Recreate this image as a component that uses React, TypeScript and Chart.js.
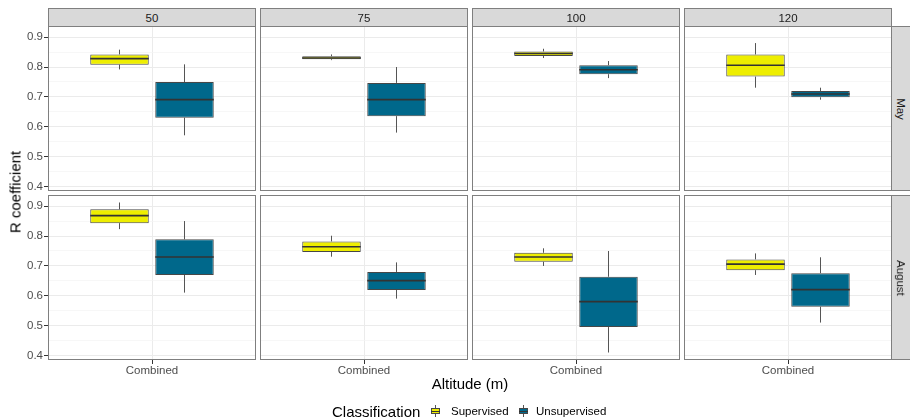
import React, { useEffect, useRef } from 'react';
import { Chart, registerables } from 'chart.js';

Chart.register(...registerables);

// ---------------- data ----------------
const MONTHS = ['May', 'August'];
const ALTITUDES = ['50', '75', '100', '120'];
const CATEGORY = ['Combined'];
const SERIES = ['Supervised', 'Unsupervised'];
const COLORS = ['#EEEE00', '#00688B'];
const Y_MAJOR = [0.4, 0.5, 0.6, 0.7, 0.8, 0.9];
const Y_MINOR = [0.45, 0.55, 0.65, 0.75, 0.85];
const Y_MIN = 0.386;
const Y_MAX = 0.937;

// each entry: [min, q1, median, q3, max], one per altitude 50, 75, 100, 120
const SUPERVISED_MAY = [
  [0.792, 0.808, 0.828, 0.842, 0.858],
  [0.823, 0.826, 0.830, 0.836, 0.842],
  [0.830, 0.837, 0.845, 0.852, 0.861],
  [0.731, 0.768, 0.806, 0.842, 0.880],
];
const UNSUPERVISED_MAY = [
  [0.572, 0.631, 0.691, 0.750, 0.809],
  [0.581, 0.636, 0.691, 0.747, 0.800],
  [0.763, 0.776, 0.791, 0.806, 0.820],
  [0.691, 0.699, 0.710, 0.720, 0.731],
];
const SUPERVISED_AUG = [
  [0.823, 0.843, 0.868, 0.889, 0.912],
  [0.731, 0.747, 0.764, 0.782, 0.801],
  [0.700, 0.714, 0.730, 0.744, 0.759],
  [0.670, 0.686, 0.706, 0.722, 0.742],
];
const UNSUPERVISED_AUG = [
  [0.611, 0.670, 0.730, 0.789, 0.850],
  [0.591, 0.620, 0.651, 0.680, 0.712],
  [0.411, 0.496, 0.581, 0.664, 0.750],
  [0.511, 0.564, 0.621, 0.676, 0.729],
];
const STATS: Record<string, number[][][]> = {
  May: [SUPERVISED_MAY, UNSUPERVISED_MAY],
  August: [SUPERVISED_AUG, UNSUPERVISED_AUG],
};

// ---------------- layout ----------------
const FONT = "'Liberation Sans', Arial, sans-serif";
const COL_LEFT = [48, 260, 472, 684];
const PANEL_W = 208;
const ROW_TOP = [26, 195];
const PANEL_H = 165;
const Y_AXIS_W = 48;
const X_AXIS_H = 22;
const BORDER = '#7f7f7f';

const isMajor = (v: number) => Y_MAJOR.some((m) => Math.abs(m - v) < 1e-6);

const boxPlugin = {
  id: 'boxWhiskers',
  afterDatasetsDraw(chart: any) {
    const ctx = chart.ctx;
    const y = chart.scales.y;
    chart.data.datasets.forEach((ds: any, i: number) => {
      const el = chart.getDatasetMeta(i).data[0];
      if (!el) return;
      const { x, width } = el.getProps(['x', 'width'], true);
      const s = ds.stats as number[];
      ctx.save();
      ctx.strokeStyle = '#555555';
      ctx.lineWidth = 1;
      ctx.beginPath();
      ctx.moveTo(x, y.getPixelForValue(s[3]));
      ctx.lineTo(x, y.getPixelForValue(s[4]));
      ctx.moveTo(x, y.getPixelForValue(s[1]));
      ctx.lineTo(x, y.getPixelForValue(s[0]));
      ctx.stroke();
      ctx.strokeStyle = '#333333';
      ctx.lineWidth = 1.6;
      ctx.beginPath();
      const my = y.getPixelForValue(s[2]);
      ctx.moveTo(x - width / 2, my);
      ctx.lineTo(x + width / 2, my);
      ctx.stroke();
      ctx.restore();
    });
  },
  afterDraw(chart: any) {
    const { left, top, right, bottom } = chart.chartArea;
    const ctx = chart.ctx;
    ctx.save();
    ctx.strokeStyle = BORDER;
    ctx.lineWidth = 1;
    ctx.strokeRect(left + 0.5, top + 0.5, right - left - 1, bottom - top - 1);
    ctx.restore();
  },
};

function Panel({ row, col }: { row: number; col: number }) {
  const ref = useRef<HTMLCanvasElement>(null);
  const yW = col === 0 ? Y_AXIS_W : 0;
  const xH = row === 1 ? X_AXIS_H : 0;
  const left = COL_LEFT[col] - yW;
  const top = ROW_TOP[row];
  const w = PANEL_W + yW;
  const h = PANEL_H + xH;

  useEffect(() => {
    const month = MONTHS[row];
    const stats = STATS[month].map((series) => series[col]);
    const chart = new Chart(ref.current as HTMLCanvasElement, {
      type: 'bar',
      data: {
        labels: CATEGORY,
        datasets: stats.map((s, i) => ({
          label: SERIES[i],
          data: [[s[1], s[3]]],
          backgroundColor: COLORS[i],
          borderColor: '#474747',
          borderWidth: 1,
          borderSkipped: false,
          categoryPercentage: 0.625,
          barPercentage: 0.9,
          stats: s,
        })) as any,
      },
      options: {
        animation: false,
        responsive: false,
        maintainAspectRatio: false,
        devicePixelRatio: 1,
        layout: { padding: 0 },
        events: [],
        plugins: { legend: { display: false }, tooltip: { enabled: false } },
        scales: {
          x: {
            type: 'category',
            offset: true,
            grid: {
              offset: false,
              color: '#EBEBEB',
              lineWidth: 1,
              drawTicks: row === 1,
              tickLength: 4,
              tickColor: '#333333',
            },
            border: { display: false },
            ticks: {
              display: row === 1,
              color: '#4D4D4D',
              font: { family: FONT, size: 11.5 },
              padding: 0,
              maxRotation: 0,
            },
            afterFit: (s: any) => {
              s.height = xH;
              s.paddingLeft = 0;
              s.paddingRight = 0;
            },
          } as any,
          y: {
            type: 'linear',
            min: Y_MIN,
            max: Y_MAX,
            afterBuildTicks: (s: any) => {
              s.ticks = [...Y_MAJOR, ...Y_MINOR]
                .sort((a, b) => a - b)
                .map((v) => ({ value: v }));
            },
            grid: {
              color: (c: any) => (c.tick && isMajor(c.tick.value) ? '#EBEBEB' : '#F3F3F3'),
              lineWidth: (c: any) => (c.tick && isMajor(c.tick.value) ? 1 : 0.7),
              drawTicks: col === 0,
              tickLength: 4,
              tickColor: (c: any) => (c.tick && isMajor(c.tick.value) ? '#333333' : 'rgba(0,0,0,0)'),
            },
            border: { display: false },
            ticks: {
              display: col === 0,
              autoSkip: false,
              color: '#4D4D4D',
              font: { family: FONT, size: 11.5 },
              padding: 1,
              callback: (v: any) => (isMajor(Number(v)) ? Number(v).toFixed(1) : ''),
            },
            afterFit: (s: any) => {
              s.width = yW;
              s.paddingTop = 0;
              s.paddingBottom = 0;
            },
          } as any,
        },
      },
      plugins: [boxPlugin],
    });
    return () => chart.destroy();
  }, []);

  return (
    <canvas
      ref={ref}
      width={w}
      height={h}
      style={{ position: 'absolute', left, top, width: w, height: h, display: 'block' }}
    />
  );
}

function LegendKey({ color, left }: { color: string; left: number }) {
  return (
    <div style={{ position: 'absolute', left, top: 405, width: 9, height: 12 }}>
      <div style={{ position: 'absolute', left: 4, top: 0, width: 1, height: 12, background: '#555' }} />
      <div
        style={{
          position: 'absolute',
          left: 0,
          top: 3,
          width: 9,
          height: 6,
          boxSizing: 'border-box',
          background: color,
          border: '1px solid #474747',
        }}
      />
      <div style={{ position: 'absolute', left: 0, top: 5.5, width: 9, height: 1.2, background: '#333' }} />
    </div>
  );
}

export default function App() {
  const stripStyle: React.CSSProperties = {
    position: 'absolute',
    boxSizing: 'border-box',
    background: '#D9D9D9',
    border: `1px solid ${BORDER}`,
    color: '#1A1A1A',
    fontFamily: FONT,
    fontSize: 11.5,
    display: 'flex',
    alignItems: 'center',
    justifyContent: 'center',
  };
  return (
    <div
      style={{
        position: 'absolute',
        left: 0,
        top: 0,
        width: 910,
        height: 419,
        overflow: 'hidden',
        background: '#FFFFFF',
        fontFamily: FONT,
      }}
    >
      {MONTHS.map((m, r) =>
        ALTITUDES.map((a, c) => <Panel key={`${m}-${a}`} row={r} col={c} />)
      )}
      {ALTITUDES.map((a, c) => (
        <div key={a} style={{ ...stripStyle, left: COL_LEFT[c], top: 8, width: PANEL_W, height: 19 }}>
          {a}
        </div>
      ))}
      {MONTHS.map((m, r) => (
        <div
          key={m}
          style={{
            ...stripStyle,
            left: COL_LEFT[3] + PANEL_W - 1,
            top: ROW_TOP[r],
            width: 20,
            height: PANEL_H,
          }}
        >
          <span style={{ display: 'inline-block', transform: 'rotate(90deg)', whiteSpace: 'nowrap' }}>{m}</span>
        </div>
      ))}
      <div
        style={{
          position: 'absolute',
          left: 15,
          top: 192,
          transform: 'translate(-50%, -50%) rotate(-90deg)',
          fontSize: 15,
          color: '#000',
          whiteSpace: 'nowrap',
        }}
      >
        R coefficient
      </div>
      <div
        style={{
          position: 'absolute',
          left: 470,
          top: 383,
          transform: 'translate(-50%, -50%)',
          fontSize: 15,
          color: '#000',
          whiteSpace: 'nowrap',
        }}
      >
        Altitude (m)
      </div>
      <div
        style={{
          position: 'absolute',
          left: 332,
          top: 411,
          transform: 'translateY(-50%)',
          fontSize: 15,
          color: '#000',
          whiteSpace: 'nowrap',
        }}
      >
        Classification
      </div>
      <LegendKey color={COLORS[0]} left={431} />
      <div
        style={{ position: 'absolute', left: 451, top: 411, transform: 'translateY(-50%)', fontSize: 11.5, color: '#000', whiteSpace: 'nowrap' }}
      >
        {SERIES[0]}
      </div>
      <LegendKey color={COLORS[1]} left={519} />
      <div
        style={{ position: 'absolute', left: 536, top: 411, transform: 'translateY(-50%)', fontSize: 11.5, color: '#000', whiteSpace: 'nowrap' }}
      >
        {SERIES[1]}
      </div>
    </div>
  );
}
